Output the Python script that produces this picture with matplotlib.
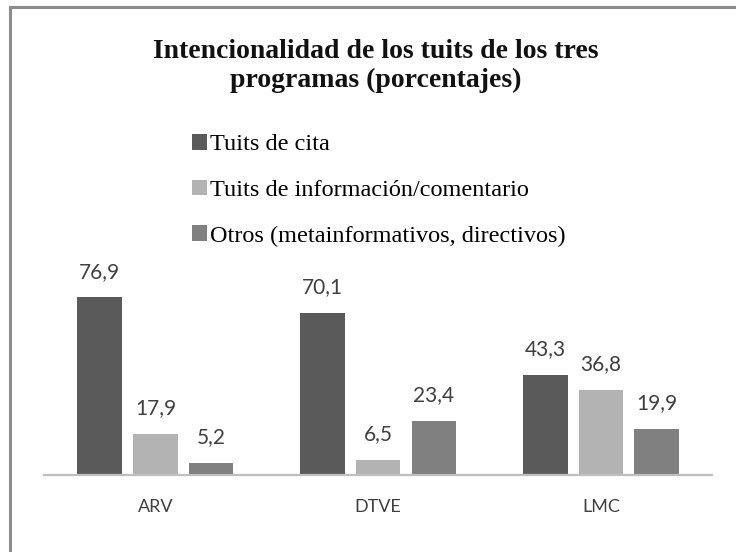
import matplotlib
matplotlib.use("Agg")
import matplotlib.pyplot as plt
import numpy as np
from matplotlib.lines import Line2D

# data
programs = ["ARV", "DTVE", "LMC"]
series_names = ["Tuits de cita",
                "Tuits de información/comentario",
                "Otros (metainformativos, directivos)"]
cita = [76.9, 70.1, 43.3]
informacion = [17.9, 6.5, 36.8]
otros = [5.2, 23.4, 19.9]
colors = ["#5a5a5a", "#b3b3b3", "#808080"]

fig = plt.figure(figsize=(7.36, 5.52), dpi=100)
fig.patch.set_facecolor("white")
ax = fig.add_axes([0.0598, 0.1395, 0.908, 0.335])

x = np.arange(len(programs))
width = 0.2
offsets = [-0.25, 0.0, 0.25]
bars = []
for vals, off, col, name in zip([cita, informacion, otros], offsets, colors, series_names):
    b = ax.bar(x + off, vals, width, color=col, label=name)
    bars.append(b)
    for xi, v in zip(x + off, vals):
        ax.annotate(f"{v:.1f}".replace(".", ","), (xi, v),
                    xytext=(0, 14), textcoords="offset points",
                    ha="center", va="baseline", fontsize=15,
                    family="Lato", color="#404040")

ax.set_xlim(-0.5, 2.5)
ax.set_ylim(0, 80)
ax.set_xticks(x, labels=programs)
ax.tick_params(axis="x", length=0, pad=17, labelsize=13, labelcolor="#404040")
for lab in ax.get_xticklabels():
    lab.set_family("Lato")
ax.set_yticks([])
for s in ["top", "right", "left"]:
    ax.spines[s].set_visible(False)
ax.spines["bottom"].set_color("#bfbfbf")
ax.spines["bottom"].set_linewidth(1.6)
ax.set_facecolor("none")

fig.text(0.511, 0.88, "Intencionalidad de los tuits de los tres\nprogramas (porcentajes)",
         ha="center", va="center", fontsize=20, fontweight="bold",
         family="Liberation Serif", linespacing=1.2, color="#111111")

fig.legend(handles=bars, loc="upper left", bbox_to_anchor=(0.261, 0.757),
           frameon=False, borderpad=0, borderaxespad=0,
           handlelength=0.6, handleheight=0.6, handletextpad=0.15,
           labelspacing=1.0,
           prop={"family": "Liberation Serif", "size": 17.5})

# frame lines (top and left visible in the reference)
fig.add_artist(Line2D([0.0136, 1.0], [0.9873, 0.9873], color="#8c8c8c", lw=2.2))
fig.add_artist(Line2D([0.0136, 0.0136], [0.0, 0.9873], color="#8c8c8c", lw=2.2))

fig.savefig("out.png", dpi=100)
